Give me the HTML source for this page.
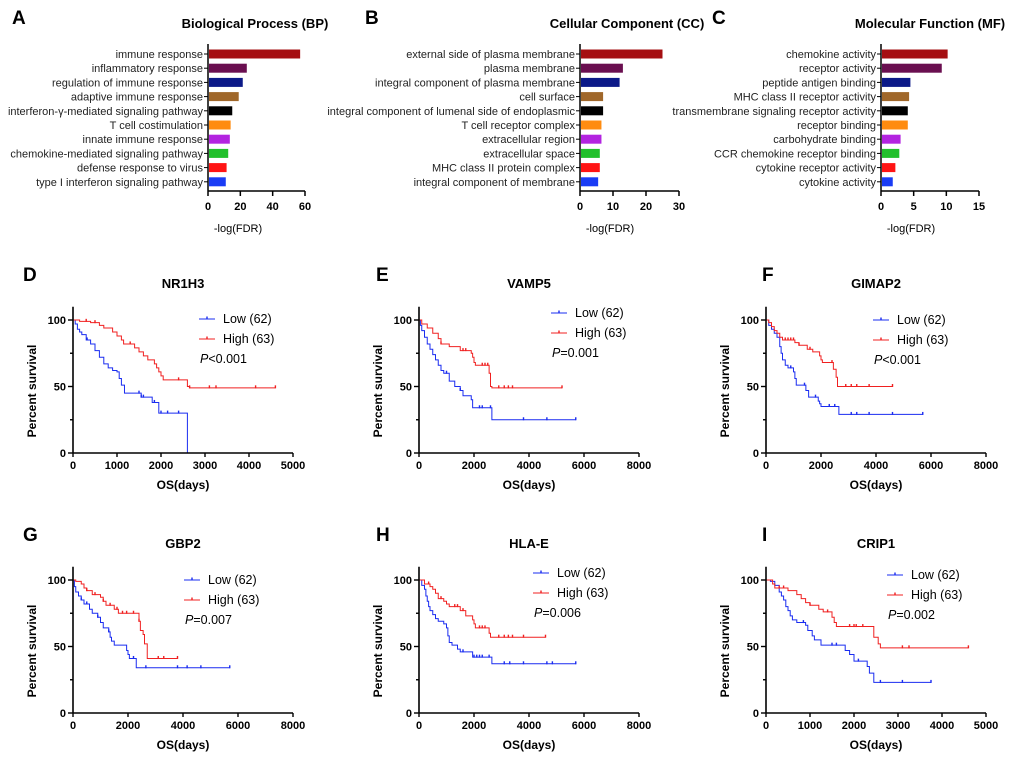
<!DOCTYPE html>
<html><head><meta charset="utf-8"><style>
body{margin:0;background:#fff;width:1020px;height:759px;overflow:hidden;font-family:"Liberation Sans",Arial,sans-serif}
svg{position:absolute;left:0;top:0}
</style></head><body>
<svg id="fig" width="1020" height="759" viewBox="0 0 1020 759" font-family="Liberation Sans, Arial, sans-serif"></svg>
<script>
// ---- bar chart data ----
const bpTerms=["immune response","inflammatory response","regulation of immune response","adaptive immune response","interferon-γ-mediated signaling pathway","T cell costimulation","innate immune response","chemokine-mediated signaling pathway","defense response to virus","type I interferon signaling pathway"];
const bpValues=[57,24,21.5,19,15,14,13.5,12.5,11.5,11];
const ccTerms=["external side of plasma membrane","plasma membrane","integral component of plasma membrane","cell surface","integral component of lumenal side of endoplasmic","T cell receptor complex","extracellular region","extracellular space","MHC class II protein complex","integral component of membrane"];
const ccValues=[25,13,12,7,7,6.5,6.5,6,6,5.5];
const mfTerms=["chemokine activity","receptor activity","peptide antigen binding","MHC class II receptor activity","transmembrane signaling receptor activity","receptor binding","carbohydrate binding","CCR chemokine receptor binding","cytokine receptor activity","cytokine activity"];
const mfValues=[10.2,9.3,4.5,4.3,4.1,4.1,3,2.8,2.2,1.8];
const bpTicks=[0,20,40,60];
const ccTicks=[0,10,20,30];
const mfTicks=[0,5,10,15];
const barColors=["#a50f12","#6a0f50","#0c1a88","#a0672a","#000000","#ff8c10","#b324e0","#22c02c","#ff1414","#1a3cf5"];
// ---- survival data: [time, percent] steps ----
const dLow=[[0,100],[50,97],[100,93],[150,91],[200,89],[300,85],[400,82],[500,77],[600,72],[700,67],[800,64],[900,62],[1000,61],[1050,56],[1100,51],[1170,45],[1550,42],[1800,38],[1950,30],[2600,0]];
const dLowEnd=2600;
const dLowCens=[320,1500,1550,1600,1850,2000,2150,2400];
const dHigh=[[0,100],[150,99],[400,98],[600,96],[700,94],[900,91],[1000,88],[1100,85],[1150,82],[1400,79],[1500,76],[1600,73],[1700,70],[1850,67],[1900,64],[1950,61],[2000,58],[2050,55],[2600,50],[2650,49]];
const dHighEnd=4600;
const dHighCens=[300,500,1300,2400,2650,3100,3250,4150,4600];
const eLow=[[0,100],[50,96],[100,92],[200,87],[300,82],[400,78],[500,74],[600,70],[700,66],[800,62],[900,60],[1100,54],[1300,50],[1500,47],[1600,43],[1900,40],[1950,34],[2650,25]];
const eLowEnd=5700;
const eLowCens=[1000,1500,2200,2300,2600,3800,4650,5700];
const eHigh=[[0,100],[100,97],[300,94],[500,90],[700,86],[800,82],[1100,80],[1500,77],[1900,75],[1950,72],[2000,68],[2050,66],[2550,60],[2600,50],[2650,49]];
const eHighEnd=5200;
const eHighCens=[800,1600,1700,2300,2400,2500,2900,3100,3250,3400,5200];
const fLow=[[0,100],[100,96],[200,93],[300,90],[400,87],[500,80],[550,75],[600,70],[700,66],[800,64],[1000,61],[1050,56],[1100,51],[1450,47],[1550,42],[1900,39],[1950,37],[2000,35],[2650,29]];
const fLowEnd=5700;
const fLowCens=[900,1400,1800,2300,2500,3100,3300,3750,4600,5700];
const fHigh=[[0,100],[100,98],[200,95],[300,92],[400,90],[500,87],[600,85],[1050,83],[1200,81],[1500,78],[1700,76],[1950,73],[2000,70],[2050,68],[2450,63],[2550,57],[2600,50]];
const fHighEnd=4600;
const fHighCens=[700,800,900,1000,1200,1600,2400,2900,3100,3300,3750,4600];
const gLow=[[0,100],[50,95],[100,91],[200,88],[300,85],[400,82],[600,78],[700,75],[900,72],[1000,68],[1100,64],[1300,61],[1350,57],[1400,54],[1500,51],[1950,47],[2000,44],[2050,41],[2300,34]];
const gLowEnd=5700;
const gLowCens=[300,500,900,1300,2200,2650,3800,4150,4650,5700];
const gHigh=[[0,100],[100,99],[300,97],[400,94],[500,92],[700,89],[1000,87],[1100,84],[1200,81],[1500,78],[1650,75],[2400,69],[2450,62],[2550,59],[2600,52],[2700,41]];
const gHighEnd=3800;
const gHighCens=[500,800,1100,1350,1600,1800,1950,2200,2400,3100,3300,3800];
const hLow=[[0,100],[100,96],[200,93],[250,88],[300,84],[350,80],[400,77],[500,74],[600,71],[700,69],[900,67],[1000,64],[1050,58],[1100,53],[1200,51],[1400,48],[1500,46],[1950,42],[2650,37]];
const hLowEnd=5700;
const hLowCens=[1600,2000,2100,2200,2300,2550,3100,3300,3800,4650,4850,5700];
const hHigh=[[0,100],[200,97],[400,95],[500,93],[600,90],[700,86],[900,84],[1000,82],[1100,80],[1500,77],[1700,73],[1950,70],[2000,67],[2050,64],[2550,60],[2600,57]];
const hHighEnd=4600;
const hHighCens=[350,800,1300,1400,1600,2200,2300,2400,2900,3100,3250,3400,3800,4600];
const iLow=[[0,100],[100,99],[200,96],[300,91],[350,88],[400,85],[450,80],[500,77],[550,73],[600,70],[700,68],[900,66],[950,62],[1050,58],[1100,55],[1250,51],[1800,47],[1900,44],[2000,39],[2300,35],[2350,30],[2450,23]];
const iLowEnd=3750;
const iLowCens=[850,1500,1600,2100,2600,3100,3750];
const iHigh=[[0,100],[150,97],[200,94],[500,92],[700,89],[800,86],[900,83],[1000,81],[1200,78],[1300,76],[1500,72],[1550,68],[1600,65],[2450,57],[2550,52],[2600,49]];
const iHighEnd=4600;
const iHighCens=[300,400,1000,1400,1900,2000,2050,2200,3100,3250,4600];
const ticks5000=[0,1000,2000,3000,4000,5000];
const ticks8000=[0,2000,4000,6000,8000];
const yTicks=[0,50,100];

const NS="http://www.w3.org/2000/svg";
const svg=document.getElementById('fig');
function mk(tag,attrs,parent){const e=document.createElementNS(NS,tag);for(const k in attrs)e.setAttribute(k,attrs[k]);(parent||svg).appendChild(e);return e;}
function txt(s,x,y,attrs,parent){const t=mk('text',Object.assign({x:x,y:y},attrs),parent);t.textContent=s;return t;}

function barChart(letter,letterX,title,terms,values,ticks,x0,x1,titleX,key){
  const g=mk('g',{});
  
  
  const max=ticks[ticks.length-1];
  const sx=v=>x0+(x1-x0)*v/max;
  const rowY=i=>54+i*14.2;
  const L=txt(letter,letterX,24,{'font-size':19,'font-weight':'bold'},g);
  
  
  const T=txt(title,titleX,28,{'font-size':13,'font-weight':'bold','text-anchor':'middle'},g);
  
  
  terms.forEach((t,i)=>{
    const y=rowY(i);
    const r=mk('rect',{x:x0+1,y:y-4.5,width:Math.max(0,sx(values[i])-x0-1),height:9,fill:barColors[i]},g);
    
    
    mk('line',{x1:x0-4,x2:x0,y1:y,y2:y,stroke:'#000','stroke-width':1},g);
    const lb=txt(t,x0-5,y+4,{'font-size':11,'text-anchor':'end',fill:'#222'},g);
    
    
  });
  mk('line',{x1:x0,x2:x0,y1:44,y2:191,stroke:'#000','stroke-width':1.5},g);
  mk('line',{x1:x0,x2:x1,y1:191,y2:191,stroke:'#000','stroke-width':1.5},g);
  ticks.forEach(v=>{
    mk('line',{x1:sx(v),x2:sx(v),y1:191,y2:196,stroke:'#000','stroke-width':1.5},g);
    const tl=txt(String(v),sx(v),210,{'font-size':11,'font-weight':'bold','text-anchor':'middle'},g);
    
    
  });
  const xt=txt('-log(FDR)',x0+30,232,{'font-size':11,'text-anchor':'middle'},g);
  
  
}
barChart('A',12,'Biological Process (BP)',bpTerms,bpValues,bpTicks,208,305,255,'bp');
barChart('B',365,'Cellular Component (CC)',ccTerms,ccValues,ccTicks,580,679,627,'cc');
barChart('C',712,'Molecular Function (MF)',mfTerms,mfValues,mfTicks,881,979,930,'mf');

function km(letter,letterX,gene,x0,y0,xticks,series,legOff,legY,pText){
  const g=mk('g',{});
  
  
  const W=220,H=133,xmax=xticks[xticks.length-1];
  const sx=t=>x0+W*t/xmax, sy=p=>y0-H*p/100;
  const L=txt(letter,letterX,y0-172,{'font-size':19,'font-weight':'bold'},g);
  
  
  const T=txt(gene,x0+110,y0-165,{'font-size':13,'font-weight':'bold','text-anchor':'middle'},g);
  
  
  series.forEach(s=>{
    let d='M'+sx(0)+','+sy(s.pts[0][1]);
    for(let i=1;i<s.pts.length;i++){d+=' H'+sx(s.pts[i][0])+' V'+sy(s.pts[i][1]);}
    d+=' H'+sx(s.end);
    const p=mk('path',{d:d,fill:'none',stroke:s.color,'stroke-width':1},g);
    
    
    s.cens.forEach(c=>{
      let v=s.pts[0][1];for(const q of s.pts){if(q[0]<=c)v=q[1];}
      if(c>=s.end&&s.pts[s.pts.length-1][0]===s.end)v=s.pts[s.pts.length-2][1];
      const m=mk('line',{x1:sx(c),x2:sx(c),y1:sy(v)-2.5,y2:sy(v)+0.5,stroke:s.color,'stroke-width':1.4},g);
      
      
    });
  });
  mk('line',{x1:x0,x2:x0,y1:sy(110),y2:y0,stroke:'#000','stroke-width':1.6},g);
  mk('line',{x1:x0,x2:x0+W,y1:y0,y2:y0,stroke:'#000','stroke-width':1.6},g);
  [0,25,50,75,100].forEach(v=>mk('line',{x1:x0-(v%50?3:5),x2:x0,y1:sy(v),y2:sy(v),stroke:'#000','stroke-width':1.4},g));
  yTicks.forEach(v=>{const t=txt(String(v),x0-7,sy(v)+4,{'font-size':11,'font-weight':'bold','text-anchor':'end'},g);
    });
  xticks.forEach(v=>{mk('line',{x1:sx(v),x2:sx(v),y1:y0,y2:y0+4,stroke:'#000','stroke-width':1.4},g);
    const t=txt(String(v),sx(v),y0+16,{'font-size':11,'font-weight':'bold','text-anchor':'middle'},g);
    });
  const xt=txt('OS(days)',x0+W/2,y0+36,{'font-size':12,'font-weight':'bold','text-anchor':'middle'},g);
  
  const yt=txt('Percent survival',0,0,{'font-size':12,'font-weight':'bold','text-anchor':'middle',transform:'translate('+(x0-37)+','+(y0-62)+') rotate(-90)'},g);
  
  const lx=x0+legOff;
  [['Low (62)','#1a2cf0',legY],['High (63)','#f02020',legY+20]].forEach(([lab,c,y])=>{
    mk('line',{x1:lx,x2:lx+16,y1:y,y2:y,stroke:c,'stroke-width':1},g);
    mk('line',{x1:lx+8,x2:lx+8,y1:y-2.5,y2:y,stroke:c,'stroke-width':1.4},g);
    const t=txt(lab,lx+24,y+4,{'font-size':12.5},g);
    
  });
  const pt=mk('text',{x:lx+1,y:legY+44,'font-size':12.5},g);
  
  const ti=mk('tspan',{'font-style':'italic'},pt);ti.textContent='P';
  const tr=mk('tspan',{},pt);tr.textContent=pText;
}
const S=(lo,le,lc,hi,he,hc)=>[{name:'low',color:'#1a2cf0',pts:lo,end:le,cens:lc},{name:'high',color:'#f02020',pts:hi,end:he,cens:hc}];
km('D',23,'NR1H3',73,453,ticks5000,S(dLow,dLowEnd,dLowCens,dHigh,dHighEnd,dHighCens),126,319,'<0.001');
km('E',376,'VAMP5',419,453,ticks8000,S(eLow,eLowEnd,eLowCens,eHigh,eHighEnd,eHighCens),132,313,'=0.001');
km('F',762,'GIMAP2',766,453,ticks8000,S(fLow,fLowEnd,fLowCens,fHigh,fHighEnd,fHighCens),107,320,'<0.001');
km('G',23,'GBP2',73,713,ticks8000,S(gLow,gLowEnd,gLowCens,gHigh,gHighEnd,gHighCens),111,580,'=0.007');
km('H',376,'HLA-E',419,713,ticks8000,S(hLow,hLowEnd,hLowCens,hHigh,hHighEnd,hHighCens),114,573,'=0.006');
km('I',762,'CRIP1',766,713,ticks5000,S(iLow,iLowEnd,iLowCens,iHigh,iHighEnd,iHighCens),121,575,'=0.002');
</script>
</body></html>
